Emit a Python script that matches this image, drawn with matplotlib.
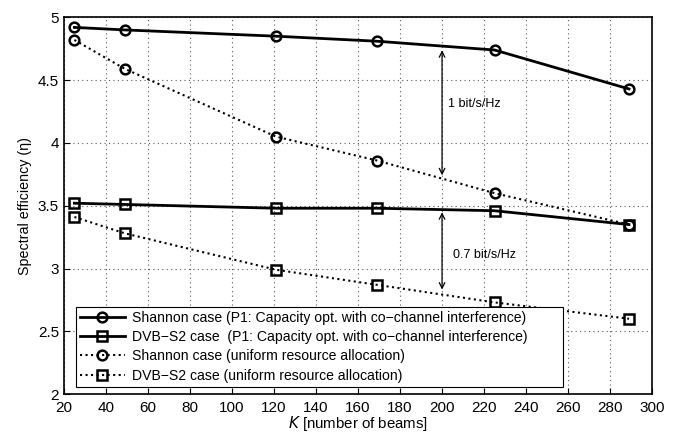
#!/usr/bin/env python3
import matplotlib
matplotlib.use('Agg')
import matplotlib.pyplot as plt

# Number of beams
K = [25, 49, 121, 169, 225, 289]

# Spectral efficiency values
shannon_p1 = [4.92, 4.90, 4.85, 4.81, 4.74, 4.43]
dvbs2_p1 = [3.52, 3.51, 3.48, 3.48, 3.46, 3.35]
shannon_uniform = [4.82, 4.59, 4.05, 3.86, 3.60, 3.35]
dvbs2_uniform = [3.41, 3.28, 2.99, 2.87, 2.73, 2.60]

labels = [
    'Shannon case (P1: Capacity opt. with co\u2212channel interference)',
    'DVB\u2212S2 case  (P1: Capacity opt. with co\u2212channel interference)',
    'Shannon case (uniform resource allocation)',
    'DVB\u2212S2 case (uniform resource allocation)',
]

plt.rcParams['font.family'] = ['Liberation Sans', 'DejaVu Sans']

fig = plt.figure(figsize=(6.8, 4.34), dpi=100)
ax = fig.add_axes([0.094, 0.092, 0.865, 0.868])

ax.plot(K, shannon_p1, 'k-o', linewidth=2, markersize=7, markerfacecolor='none',
        markeredgewidth=1.8, label=labels[0])
ax.plot(K, dvbs2_p1, 'k-s', linewidth=2, markersize=6.5, markerfacecolor='none',
        markeredgewidth=1.8, label=labels[1])
ax.plot(K, shannon_uniform, 'k:o', linewidth=1.5, markersize=7, markerfacecolor='none',
        markeredgewidth=1.8, label=labels[2])
ax.plot(K, dvbs2_uniform, 'k:s', linewidth=1.5, markersize=6.5, markerfacecolor='none',
        markeredgewidth=1.8, label=labels[3])

# Gap annotations
ax.annotate('', xy=(200, 3.72), xytext=(200, 4.76),
            arrowprops=dict(arrowstyle='<->', color='k', lw=0.9))
ax.text(203, 4.31, '1 bit/s/Hz', fontsize=9, va='center')
ax.annotate('', xy=(200, 2.81), xytext=(200, 3.47),
            arrowprops=dict(arrowstyle='<->', color='k', lw=0.9))
ax.text(205, 3.11, '0.7 bit/s/Hz', fontsize=9, va='center')

ax.set_xlim(20, 300)
ax.set_ylim(2, 5)
ax.set_xticks(range(20, 301, 20))
ax.set_yticks([2, 2.5, 3, 3.5, 4, 4.5, 5])
ax.set_yticklabels(['2', '2.5', '3', '3.5', '4', '4.5', '5'])
ax.tick_params(direction='in', labelsize=11, length=4)
ax.tick_params(axis='x', pad=5)
ax.grid(True, linestyle=(0, (1, 3)), color='0.35', linewidth=0.8)
for s in ax.spines.values():
    s.set_linewidth(1.2)

ax.set_xlabel('$K$ [number of beams]', fontsize=10.8, labelpad=-1)
ax.set_ylabel('Spectral efficiency (\u03b7)', fontsize=10.3, labelpad=4)

leg = ax.legend(loc='lower left', bbox_to_anchor=(0.02, 0.019, 0.828, 0.2),
                mode='expand', fontsize=10.1,
                fancybox=False, edgecolor='k', framealpha=1, borderpad=0.3,
                labelspacing=0.38, handlelength=3.2, handletextpad=0.5,
                borderaxespad=0)
leg.get_frame().set_linewidth(0.8)

fig.savefig('out.png', dpi=100)
